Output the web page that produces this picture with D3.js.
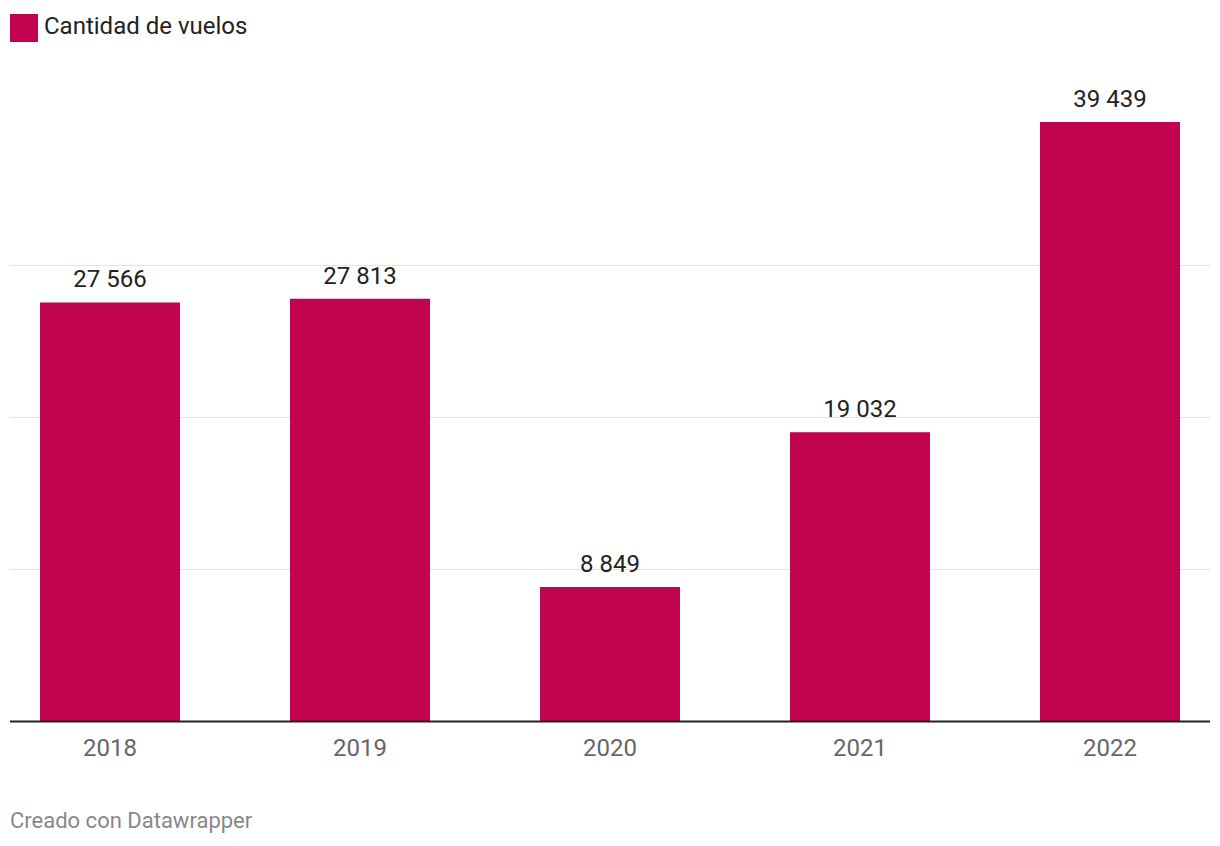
<!DOCTYPE html>
<html><head><meta charset="utf-8">
<script src="https://cdn.jsdelivr.net/npm/d3@7"></script>
<style>body{margin:0;background:#fff;font-family:Roboto,sans-serif}</style>
</head><body><svg id="c" width="1220" height="846"></svg>
<script>
const categories = ["2018","2019","2020","2021","2022"];
const values = [27566, 27813, 8849, 19032, 39439];
const gridTicks = [10000, 20000, 30000];
const seriesName = "Cantidad de vuelos";
const footer = "Creado con Datawrapper";

const svg = d3.select("#c");
const color = "#c2034f";
const x = d3.scaleBand().domain(categories).range([10,1210]).paddingInner(0.44).paddingOuter(0.12);
const y = d3.scaleLinear().domain([0,40000]).range([721.5,113.5]);
const fmt = v => d3.format(",")(v).replace(/,/g," ");

svg.append("g").selectAll("line").data(gridTicks).join("line")
  .attr("x1",10).attr("x2",1210).attr("y1",d=>Math.round(y(d))-0.5).attr("y2",d=>Math.round(y(d))-0.5)
  .attr("stroke","#e3e3e3").attr("stroke-width",1);

svg.append("g").selectAll("rect").data(values).join("rect")
  .attr("x",(d,i)=>x(categories[i])).attr("width",x.bandwidth())
  .attr("y",d=>y(d)).attr("height",d=>y(0)-y(d)).attr("fill",color);

svg.append("g").selectAll("text").data(values).join("text")
  .attr("x",(d,i)=>x(categories[i])+x.bandwidth()/2).attr("y",d=>y(d)-15)
  .attr("text-anchor","middle").attr("font-size",24).attr("fill","#222").text(fmt);

svg.append("line").attr("x1",10).attr("x2",1210).attr("y1",y(0)).attr("y2",y(0))
  .attr("stroke","#222").attr("stroke-width",2);

const xa = svg.append("g").attr("transform",`translate(0,${y(0)})`)
  .call(d3.axisBottom(x).tickSize(0).tickPadding(0));
xa.select(".domain").remove();
xa.selectAll("text").attr("font-size",24).attr("fill","#666").attr("font-family","Roboto,sans-serif").attr("dy",null).attr("y",34);

svg.append("rect").attr("x",10).attr("y",14).attr("width",28).attr("height",28).attr("fill",color);
svg.append("text").attr("x",44).attr("y",34).attr("font-size",24).attr("fill","#222").text(seriesName);
svg.append("text").attr("x",10).attr("y",828).attr("font-size",22).attr("fill","#888").text(footer);
</script></body></html>
